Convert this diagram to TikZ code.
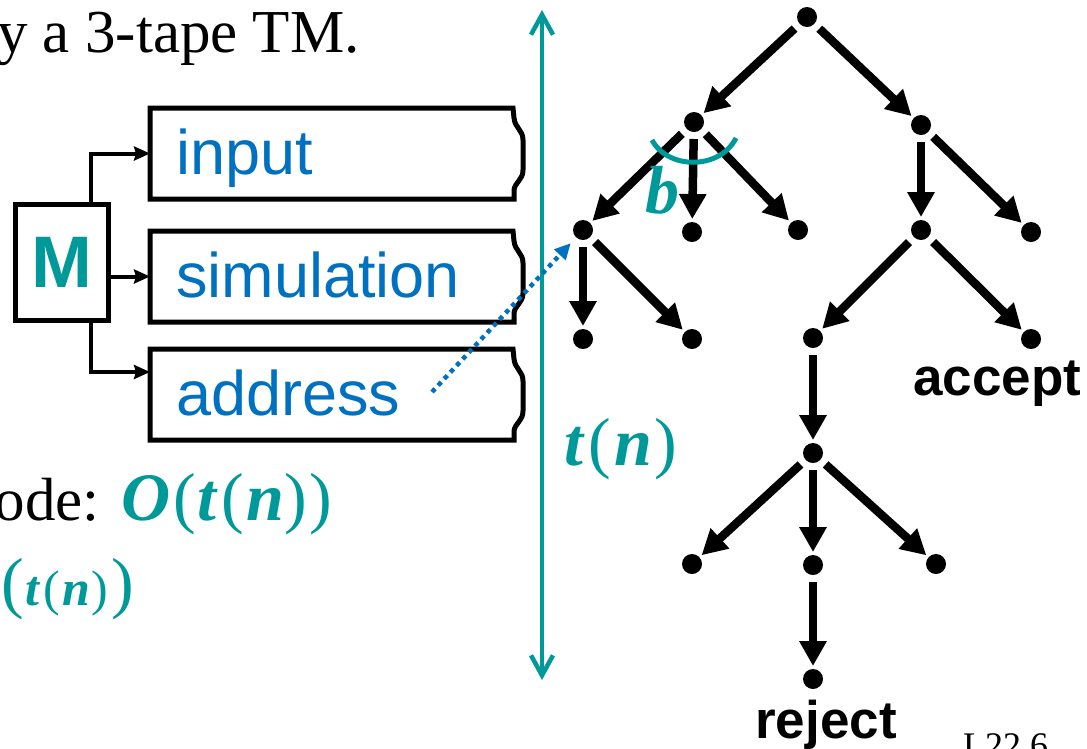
\documentclass[tikz,border=0pt]{standalone}
\usepackage{fontspec}
\setmainfont{Liberation Serif}
\newfontfamily\arialfont{Liberation Sans}
\usetikzlibrary{arrows.meta,calc}
\definecolor{tealc}{HTML}{009999}
\definecolor{bluec}{HTML}{0070C0}
\newcommand{\bi}[1]{\textbf{\textit{#1}}}
\tikzset{
  dot/.style={circle,fill=black,inner sep=0pt,minimum size=20pt,outer sep=0pt},
  tarrow/.style={line width=8.5pt,-{Triangle[length=25pt,width=26pt]},shorten <=7pt,shorten >=3pt},
  tapebox/.style={minimum width=363pt,minimum height=91pt,inner sep=0pt,outer sep=0pt},
  tapetext/.style={font=\arialfont\fontsize{63}{70}\selectfont,text=bluec,anchor=base west,inner sep=0pt},
  marrow/.style={line width=4pt,-{Stealth[length=16pt,width=14pt,inset=2pt]}},
  lbl/.style={font=\arialfont\bfseries\fontsize{53}{60}\selectfont,inner sep=0pt},
  mathtxt/.style={anchor=base west,inner sep=0pt,text=tealc,font=\fontsize{68}{76}\selectfont},
  pics/tapeshape/.style={code={
    \draw[line width=5pt,line join=miter] (0,0) -- (363,0) -- (364,10)
      .. controls (365,20) and (373,22) .. (373,32) -- (373,62)
      .. controls (373,72) and (365,74) .. (364,82) -- (364,91) -- (0,91) -- cycle;}}
}
\begin{document}
\begin{tikzpicture}[x=1pt,y=-1pt]
\clip (0,0) rectangle (1087,748);
% title fragment
\node[anchor=base west,inner sep=0pt,font=\fontsize{61}{70}\selectfont] (title) at (-3,52) {y a 3-tape TM.};
% tapes
\node[tapebox] (tin)   at (331.5,153.5) {};
\node[tapebox] (tsim)  at (331.5,276.5) {};
\node[tapebox] (taddr) at (331.5,394.5) {};
\pic at (tin.north west) {tapeshape};
\pic at (tsim.north west) {tapeshape};
\pic at (taddr.north west) {tapeshape};
\node[tapetext] (xin)   at (176,174) {input};
\node[tapetext] (xsim)  at (176,297) {simulation};
\node[tapetext] (xaddr) at (176,415) {address};
% M box
\node[draw,line width=5pt,minimum width=93pt,minimum height=116pt,inner sep=0pt,
      text=tealc,font=\arialfont\bfseries\fontsize{73}{80}\selectfont] (M) at (61.5,262) {M};
\draw[marrow] ([xshift=29pt]M.north) |- (tin.west);
\draw[marrow] (M.east |- tsim.west) -- (tsim.west);
\draw[marrow] ([xshift=29pt]M.south) |- ([yshift=-23pt]taddr.north west);
% bottom-left text
\node[anchor=base east,inner sep=0pt,font=\fontsize{61}{70}\selectfont] (ode) at (100,520) {ode:};
\node[mathtxt] (bigO) at (121,520)
  {\bi{O}\kern3pt(\kern2pt\bi{t}\kern3pt(\kern2pt\bi{n})\kern3pt)};
\node[mathtxt] (tn2) at (1,605)
  {(\kern2pt{\fontsize{50}{56}\selectfont\bi{t}\kern3pt(\kern2pt\bi{n}\kern1pt)}\kern3pt)};
% time axis
\coordinate (tTop) at (542,10);
\coordinate (tBot) at (542,680);
\draw[tealc,line width=4.5pt,{Straight Barb[length=20pt,width=22pt]}-{Straight Barb[length=20pt,width=22pt]}] (tTop) -- (tBot);
\node[mathtxt] (tn) at (564,465) {\bi{t}\kern4pt(\kern3pt\bi{n}\kern2pt)};
% tree
\node[dot] (r)   at (807,17) {};
\node[dot] (a)   at (694,122) {};
\node[dot] (b)   at (921,125) {};
\node[dot] (a1)  at (583,230) {};
\node[dot] (a2)  at (692,232) {};
\node[dot] (a3)  at (798,230) {};
\node[dot] (b1)  at (921,230) {};
\node[dot] (b2)  at (1031,232) {};
\node[dot] (a11) at (583,339) {};
\node[dot] (a12) at (692,339) {};
\node[dot] (b11) at (813,338) {};
\node[dot] (b12) at (1031,339) {};
\node[dot] (c)   at (813,453) {};
\node[dot] (c1)  at (692,564) {};
\node[dot] (c2)  at (813,565) {};
\node[dot] (c3)  at (936,564) {};
\node[dot] (d)   at (813,679) {};
\foreach \s/\t in {r/a,r/b,a/a1,a/a2,a/a3,b/b1,b/b2,a1/a11,a1/a12,b1/b11,b1/b12,b11/c,c/c1,c/c2,c/c3,c2/d}
  \draw[tarrow] (\s) -- (\t);
% branching arc and b
\draw[tealc,line width=5pt] (652,140) .. controls (668,170) and (720,170) .. (736,138);
\node[mathtxt] (blab) at (645,213) {\bi{b}};
% address pointer
\coordinate (addrdot) at (432,392);
\draw[bluec,line width=4.5pt,dash pattern=on 4.5pt off 4.5pt,-{Triangle[length=16pt,width=15pt]},shorten >=8pt] (addrdot) -- (a1);
% labels
\node[lbl,anchor=base west] (acc) at (913,395) {accept};
\node[lbl,anchor=base] (rej) at (826,738) {reject};
\node[anchor=base west,inner sep=0pt,font=\fontsize{36}{40}\selectfont] (pg) at (963,757) {L22.6};
\end{tikzpicture}
\end{document}
